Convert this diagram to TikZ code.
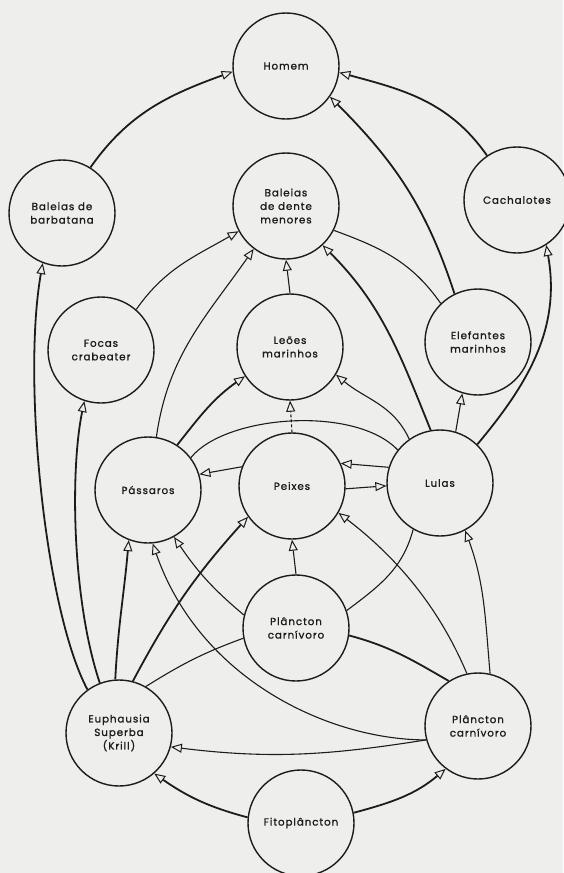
\documentclass[tikz,border=0pt]{standalone}
\usepackage{fontspec}
\newfontfamily\lbl[LetterSpace=9,FakeBold=1.2]{Poppins}
\usetikzlibrary{arrows.meta}
\definecolor{paper}{RGB}{238,238,236}
\definecolor{ink}{RGB}{28,28,28}
\begin{document}
\begin{tikzpicture}[x=1pt,y=1pt,
  sp/.style={circle,draw=ink,line width=1.4pt,fill=paper,minimum size=106pt,inner sep=0pt,
    align=center,font=\lbl\fontsize{10.3}{13.5}\selectfont,text=ink},
  eat/.style={draw=ink,line width=1.1pt,-{Triangle[open,fill=paper,length=11pt,width=9pt,line width=1pt]}},
  link/.style={draw=ink,line width=1.1pt},
  thk/.style={line width=1.8pt}]
\fill[paper] (0,0) rectangle (563,-873);
\useasboundingbox (0,0) rectangle (563,-873);
% species
\node[sp] (H)  at (286,-66)  {Homem};
\node[sp] (BB) at (62,-213)  {Baleias de\\barbatana};
\node[sp] (BD) at (286,-206) {Baleias\\de dente\\menores};
\node[sp] (Ca) at (517,-200) {Cachalotes};
\node[sp] (Fo) at (101,-350) {Focas\\crabeater};
\node[sp] (Le) at (290,-347) {Leões\\marinhos};
\node[sp] (El) at (478,-342) {Elefantes\\marinhos};
\node[sp] (Pa) at (148,-490) {Pássaros};
\node[sp] (Pe) at (292,-486) {Peixes};
\node[sp] (Lu) at (440,-483) {Lulas};
\node[sp] (PT) at (296,-628) {Plâncton\\carnívoro};
\node[sp] (Eu) at (119,-733) {Euphausia\\Superba\\(Krill)};
\node[sp] (PR) at (478,-726) {Plâncton\\carnívoro};
\node[sp] (Fi) at (301,-823) {Fitoplâncton};
% links
\draw[eat,thk] (BB.58) to[out=55,in=200] (H.186);
\draw[eat,thk] (Ca.124) to[out=125,in=-15] (H.-7);
\draw[eat,thk] (El.116) to[out=108,in=-45] (H.-35);
\draw[eat,thk] (Lu.46) to[out=50,in=-80] (Ca.-57);
\draw[eat,thk] (Eu.126) .. controls (45,-610) and (22,-380) .. (BB.-111);
\draw[eat,thk] (Eu.111) .. controls (72,-600) and (70,-470) .. (Fo.-108);
\draw[eat] (Fo.49) to[out=55,in=210] (BD.208);
\draw[eat] (Pa.81) to[out=82,in=235] (BD.233);
\draw[eat] (Le.90) -- (BD.-90);
\draw[eat,thk] (Lu.100) to[out=112,in=-45] (BD.-47);
\draw[link] (El.134) to[out=125,in=-20] (BD.-27);
\draw[eat] (Lu.73) -- (El.-107);
\draw[eat,thk] (Pa.57) to[out=52,in=215] (Le.213);
\draw[eat] (Lu.125) to[out=115,in=-40] (Le.-31);
\draw[eat,densely dashed] (Pe.90) -- (Le.-90);
\draw[link] (Pa.37) .. controls (225,-415) and (355,-405) .. (Lu.142);
\draw[eat] (Pe.159) -- (Pa.17);
\draw[eat] (Lu.163) -- (Pe.25);
\draw[eat] (Pe.-3) -- (Lu.183);
\draw[eat] (PT.90) -- (Pe.-90);
\draw[eat,thk] (Eu.75) to[out=62,in=228] (Pe.215);
\draw[eat,thk] (Eu.94) to[out=87,in=-95] (Pa.-111);
\draw[eat] (PR.195) .. controls (330,-740) and (200,-680) .. (Pa.-85);
\draw[eat] (PT.166) to[out=140,in=-56] (Pa.-61);
\draw[link] (Eu.60) to[out=32,in=200] (PT.191);
\draw[link] (Lu.-120) to[out=-105,in=37] (PT.19);
\draw[link,thk] (PT.-8) to[out=-15,in=150] (PR.123);
\draw[eat] (PR.102) .. controls (440,-610) and (400,-560) .. (Pe.-30);
\draw[eat] (PR.77) to[out=95,in=-70] (Lu.-62);
\draw[eat] (PR.195) to[out=189,in=-7] (Eu.-15);
\draw[eat,thk] (Fi.174) to[out=165,in=-35] (Eu.-49);
\draw[eat,thk] (Fi.11) to[out=15,in=220] (PR.233);
\end{tikzpicture}
\end{document}
